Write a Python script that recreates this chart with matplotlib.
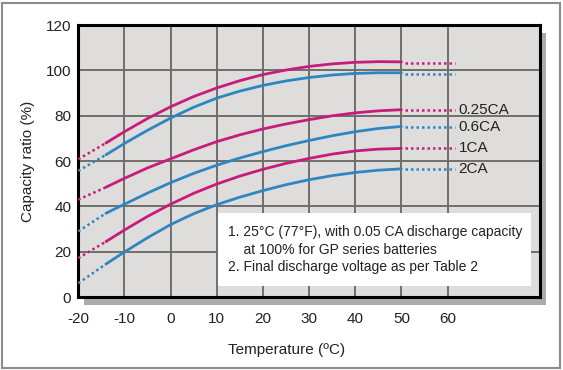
import matplotlib
matplotlib.use("Agg")
import matplotlib.pyplot as plt
from matplotlib.patches import Rectangle

plt.rcParams['font.family'] = ['Liberation Sans', 'DejaVu Sans']
plt.rcParams['axes.unicode_minus'] = False

# temperatures (degC) for the solid part of each curve
temps = [-14, -10, -5, 0, 5, 10, 15, 20, 25, 30, 35, 40, 45, 50]

# capacity ratio (%)
top_magenta = [68, 73, 78.8, 84, 88.5, 92.3, 95.5, 98.2, 100.2, 101.8, 102.9, 103.6, 103.9, 103.8]
top_blue = [62.8, 67.8, 73.6, 79, 83.8, 87.8, 90.9, 93.4, 95.4, 96.9, 98, 98.7, 99, 99]
ca_025 = [48.5, 52.4, 57, 61, 65, 68.6, 71.6, 74.2, 76.4, 78.3, 80, 81.3, 82.2, 82.7]
ca_06 = [37, 41, 45.9, 50.5, 54.6, 58.2, 61.4, 64.2, 66.8, 69.1, 71.2, 73, 74.4, 75.3]
ca_1 = [24.5, 29.6, 35.6, 41, 45.8, 49.9, 53.4, 56.4, 59, 61.2, 63.1, 64.5, 65.3, 65.6]
ca_2 = [14.6, 19.9, 26.2, 32, 36.8, 40.8, 44.1, 47, 49.6, 51.8, 53.6, 55, 56, 56.6]

# values at -20 degC (dotted start) and level of the dotted tail on the right
start_vals = [60.8, 55.7, 43, 29, 17.2, 6.1]
tail_vals = [103.3, 98.5, 82.6, 74.9, 65.6, 56.7]
tail_x = [50.7, 61.5]

labels = ['', '', '0.25CA', '0.6CA', '1CA', '2CA']
magenta = '#c81c7c'
blue = '#2d86c2'
colors = [magenta, blue, magenta, blue, magenta, blue]

xticks = [-20, -10, 0, 10, 20, 30, 40, 50, 60]
yticks = [0, 20, 40, 60, 80, 100, 120]

note = ("1. 25\u00b0C (77\u00b0F), with 0.05 CA discharge capacity\n"
        "    at 100% for GP series batteries\n"
        "2. Final discharge voltage as per Table 2")

fig = plt.figure(figsize=(5.63, 3.70), dpi=100)
fig.patch.set_facecolor('white')

# outer frame
fig.patches.append(Rectangle((0.004, 0.006), 0.99, 0.987, transform=fig.transFigure,
                             facecolor='none', edgecolor='#8c8c8c', linewidth=1.5, zorder=-2))

ax_pos = [0.139, 0.197, 0.820, 0.735]
# drop shadow behind the plot area
fig.patches.append(Rectangle((ax_pos[0] + 0.011, ax_pos[1] - 0.021), ax_pos[2], ax_pos[3],
                             transform=fig.transFigure, facecolor='#ababab',
                             edgecolor='none', zorder=-1))

ax = fig.add_axes(ax_pos)
ax.set_facecolor('#dedddb')

series = [top_magenta, top_blue, ca_025, ca_06, ca_1, ca_2]
for vals, s, t, c, lab in zip(series, start_vals, tail_vals, colors, labels):
    ax.plot(temps, vals, color=c, lw=2, solid_capstyle='round', solid_joinstyle='round', zorder=3)
    ax.plot([-20, temps[0]], [s, vals[0]], color=c, lw=1.8, ls=(0, (1, 1.2)), zorder=3)
    ax.plot(tail_x, [t, t], color=c, lw=1.8, ls=(0, (1, 1.2)), zorder=3)
    if lab:
        ax.text(62.4, t, lab, fontsize=11, va='center', ha='left', color='#222222')

ax.add_patch(Rectangle((10.2, 5), 67.8, 32, facecolor='white', edgecolor='none', zorder=4))
ax.text(12.5, 21, note, fontsize=10, va='center', ha='left', linespacing=1.3,
        color='#222222', zorder=5)

ax.set_xlim(-20, 80)
ax.set_ylim(0, 120)
ax.set_xticks(xticks)
ax.set_yticks(yticks)
ax.grid(True, color='#6e6e6e', lw=1.4, zorder=1)
ax.set_axisbelow(True)
ax.tick_params(length=0, labelsize=11, colors='#222222')
ax.tick_params(axis='x', pad=11)
ax.tick_params(axis='y', pad=5)
for sp in ax.spines.values():
    sp.set_linewidth(2.2)
    sp.set_color('black')

ax.set_ylabel('Capacity ratio (%)', fontsize=11, color='#222222', labelpad=8)
ax.set_xlabel('Temperature (\u00baC)', fontsize=11, color='#222222', labelpad=12, x=0.452)

fig.savefig('out.png', dpi=100)
